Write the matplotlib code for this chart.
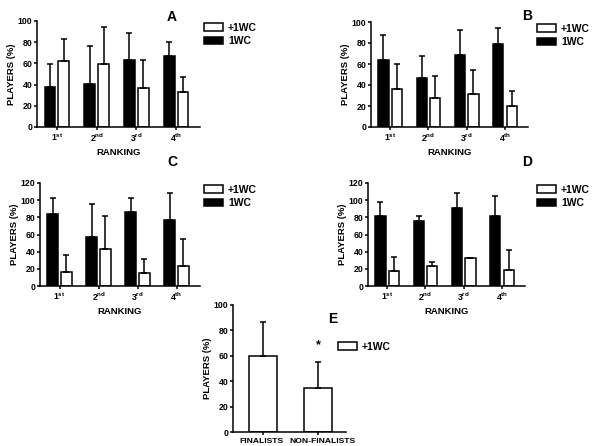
import matplotlib
matplotlib.use("Agg")
import matplotlib.pyplot as plt
import matplotlib.transforms as mtransforms
from matplotlib.patches import Patch
import numpy as np

plt.rcParams['font.family'] = ['Liberation Sans', 'DejaVu Sans']
plt.rcParams['font.weight'] = 'bold'
plt.rcParams['mathtext.fontset'] = 'custom'
plt.rcParams['mathtext.rm'] = 'Liberation Sans:bold'
plt.rcParams['mathtext.bf'] = 'Liberation Sans:bold'

rank_labels = [r'1$^{\mathrm{st}}$', r'2$^{\mathrm{nd}}$', r'3$^{\mathrm{rd}}$', r'4$^{\mathrm{th}}$']

# Panel A
a_1wc = [38, 41, 63, 67]
a_1wc_err = [21, 35, 26, 13]
a_p1wc = [62, 59, 37, 33]
a_p1wc_err = [21, 35, 26, 14]
# Panel B
b_1wc = [64, 47, 69, 79]
b_1wc_err = [24, 21, 23, 15]
b_p1wc = [36, 28, 31, 20]
b_p1wc_err = [24, 21, 23, 14]
# Panel C
c_1wc = [84, 57, 86, 77]
c_1wc_err = [19, 38, 16, 31]
c_p1wc = [16, 43, 15, 23]
c_p1wc_err = [20, 38, 17, 32]
# Panel D
d_1wc = [82, 76, 91, 81]
d_1wc_err = [16, 5, 17, 24]
d_p1wc = [18, 23, 33, 19]
d_p1wc_err = [16, 5, 0, 23]
# Panel E
e_groups = ['FINALISTS', 'NON-FINALISTS']
e_vals = [60, 35]
e_err = [27, 20]

W, H = 597, 446
fig = plt.figure(figsize=(W / 100, H / 100), dpi=100)

def ax_px(left, right, top, bottom):
    return fig.add_axes([left / W, 1 - bottom / H, (right - left) / W, (bottom - top) / H])

LW = 1.1
FS = 6.3

def style(ax):
    for s in ['top', 'right']:
        ax.spines[s].set_visible(False)
    for s in ['left', 'bottom']:
        ax.spines[s].set_linewidth(LW)
    ax.tick_params(axis='both', width=LW, length=2.5, labelsize=FS, pad=1)
    ax.set_ylabel('PLAYERS (%)', fontsize=FS + 0.5, fontweight='bold', labelpad=1)

def rank_panel(box, v1, e1, v2, e2, ymax, title, tpos, lpos):
    ax = ax_px(*box)
    x = np.arange(4)
    bw = 0.27
    off = 0.175
    ax.bar(x - off, v1, bw, color='black', edgecolor='black', linewidth=LW,
           yerr=[np.zeros(4), e1], error_kw=dict(ecolor='black', elinewidth=LW, capsize=2.5, capthick=LW))
    ax.bar(x + off, v2, bw, color='white', edgecolor='black', linewidth=LW,
           yerr=[np.zeros(4), e2], error_kw=dict(ecolor='black', elinewidth=LW, capsize=2.5, capthick=LW))
    ax.set_xlim(-0.5, 3.6)
    ax.set_ylim(0, ymax)
    ax.set_yticks(np.arange(0, ymax + 1, 20))
    ax.set_xticks(x)
    ax.set_xticklabels(rank_labels)
    style(ax)
    ax.tick_params(axis='x', pad=0.5)
    ax.set_xlabel('RANKING', fontsize=FS + 0.5, fontweight='bold', labelpad=3)
    fig.text(tpos[0] / W, 1 - tpos[1] / H, title, fontsize=10, fontweight='bold', ha='center', va='center')
    handles = [Patch(facecolor='white', edgecolor='black', linewidth=LW, label='+1WC'),
               Patch(facecolor='black', edgecolor='black', linewidth=LW, label='1WC')]
    fig.legend(handles=handles, loc='upper left', bbox_to_anchor=(lpos[0] / W, 1 - lpos[1] / H),
               frameon=False, fontsize=FS + 1.2, handlelength=1.8, handleheight=0.8,
               handletextpad=0.5, labelspacing=0.3, borderpad=0, borderaxespad=0)
    return ax

rank_panel((37, 200, 21, 127), a_1wc, a_1wc_err, a_p1wc, a_p1wc_err, 100, 'A', (172, 17), (204, 23))
rank_panel((371, 528, 22, 127), b_1wc, b_1wc_err, b_p1wc, b_p1wc_err, 100, 'B', (527, 16), (537, 24))
rank_panel((40, 200, 183, 286), c_1wc, c_1wc_err, c_p1wc, c_p1wc_err, 120, 'C', (172, 162), (204, 185))
rank_panel((368, 525, 183, 286), d_1wc, d_1wc_err, d_p1wc, d_p1wc_err, 120, 'D', (527, 162), (537, 185))

# Panel E
ax = ax_px(233, 346, 305, 432)
xe = np.arange(2)
ax.bar(xe, e_vals, 0.51, color='white', edgecolor='black', linewidth=LW,
       yerr=[np.zeros(2), e_err], error_kw=dict(ecolor='black', elinewidth=LW, capsize=2.5, capthick=LW))
ax.set_xlim(-0.545, 1.51)
ax.set_ylim(0, 100)
ax.set_yticks(np.arange(0, 101, 20))
ax.set_xticks(xe)
ax.set_xticklabels(e_groups)
style(ax)
ax.tick_params(axis='x', pad=2, labelsize=FS - 0.2)
shifts = [-2, 4]
for lab, dx in zip(ax.get_xticklabels(), shifts):
    lab.set_transform(lab.get_transform() + mtransforms.ScaledTranslation(dx / 100, 0, fig.dpi_scale_trans))
ax.text(1, 68, '*', fontsize=9, fontweight='bold', ha='center', va='center')
fig.text(333 / W, 1 - 319 / H, 'E', fontsize=10, fontweight='bold', ha='center', va='center')
fig.legend(handles=[Patch(facecolor='white', edgecolor='black', linewidth=LW, label='+1WC')],
           loc='upper left', bbox_to_anchor=(338 / W, 1 - 342 / H), frameon=False, fontsize=FS + 1.2,
           handlelength=1.8, handleheight=0.8, handletextpad=0.5, borderpad=0, borderaxespad=0)

fig.savefig('out.png', dpi=100)
